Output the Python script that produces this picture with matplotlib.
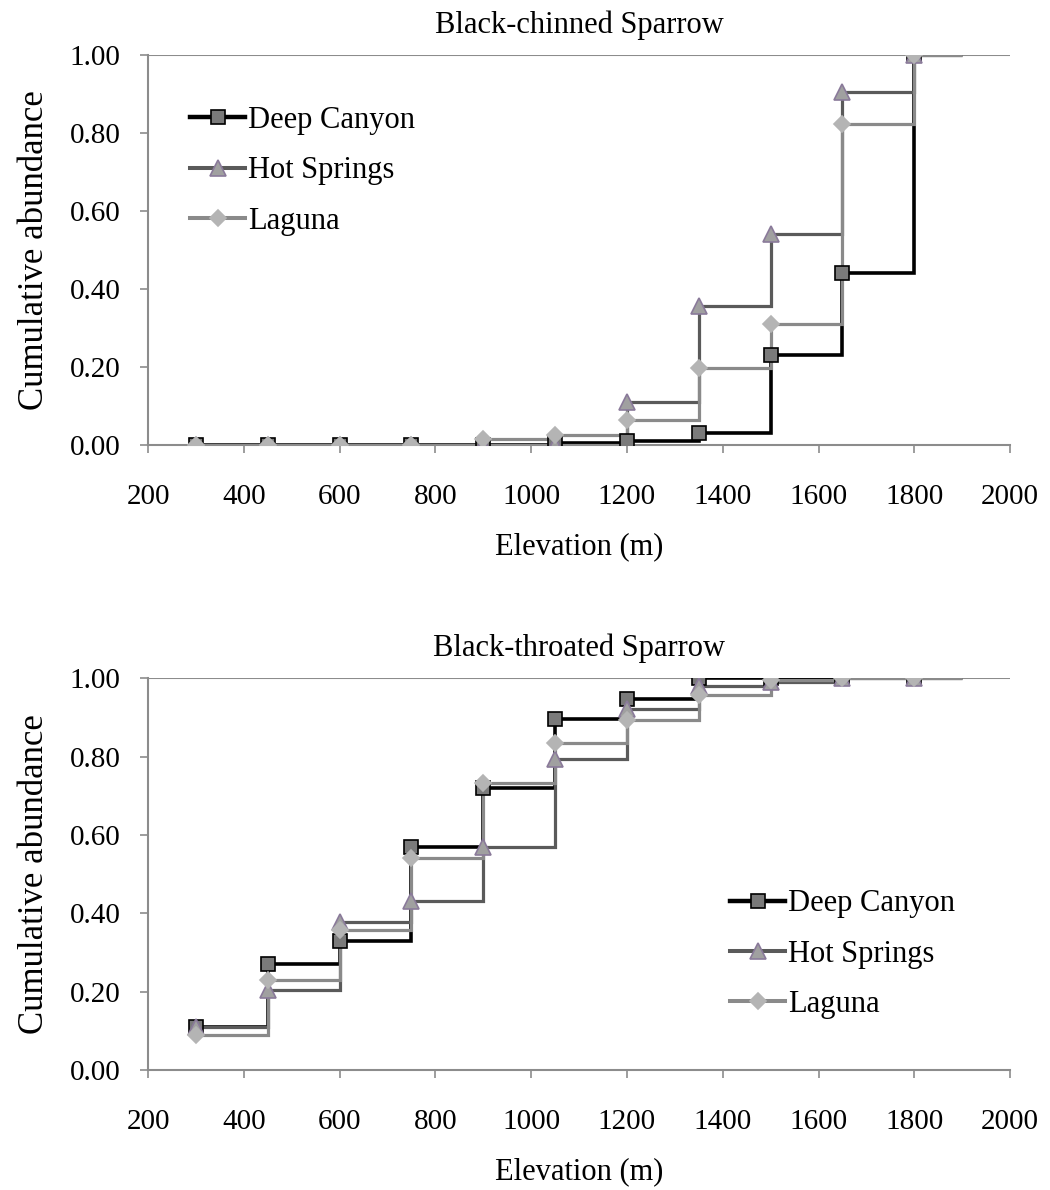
import numpy as np
import matplotlib.pyplot as plt
from matplotlib.ticker import FormatStrFormatter

plt.rcParams['font.family'] = ['Liberation Serif', 'DejaVu Serif']

elev = [300, 450, 600, 750, 900, 1050, 1200, 1350, 1500, 1650, 1800]
edges = elev + [1900]

# Black-chinned Sparrow
bc_deep = [0, 0, 0, 0, 0, 0.005, 0.01, 0.03, 0.23, 0.44, 1.00]
bc_hot = [0, 0, 0, 0, 0, 0, 0.11, 0.355, 0.54, 0.905, 1.00]
bc_lag = [0, 0, 0, 0, 0.015, 0.025, 0.064, 0.197, 0.31, 0.823, 1.00]

# Black-throated Sparrow
bt_deep = [0.11, 0.27, 0.33, 0.57, 0.72, 0.895, 0.948, 1.00, 1.00, 1.00, 1.00]
bt_hot = [0.11, 0.203, 0.378, 0.43, 0.569, 0.793, 0.922, 0.98, 0.99, 1.00, 1.00]
bt_lag = [0.09, 0.229, 0.357, 0.54, 0.733, 0.835, 0.894, 0.958, 0.995, 1.00, 1.00]

styles = [
    ("Deep Canyon", "black", 2.6, "s", "#7a7a7a", "black", 10),
    ("Hot Springs", "#5a5a5a", 2.3, "^", "#a0a0a0", "#8a7a9a", 11),
    ("Laguna", "#8a8a8a", 2.3, "D", "#b4b4b4", "#b4b4b4", 8),
]

fig = plt.figure(figsize=(10.5, 11.9), dpi=100)
ax1 = fig.add_axes([0.141, 0.626, 0.821, 0.328])
ax2 = fig.add_axes([0.141, 0.101, 0.821, 0.329])


def draw(ax, series, title, legend_anchor):
    for vals, (name, lc, lw, mk, mfc, mec, ms) in zip(series, styles):
        ax.stairs(vals, edges, baseline=None, color=lc, lw=lw, zorder=2)
        ax.plot(elev, vals, ls="none", marker=mk, mfc=mfc, mec=mec, ms=ms, mew=1.2, zorder=3)
        ax.plot([], [], color=lc, lw=lw + 0.6, marker=mk, mfc=mfc, mec=mec, ms=ms, mew=1.2, label=name)
    ax.set_xlim(200, 2000)
    ax.set_ylim(0, 1.0)
    ax.set_xticks(np.arange(200, 2001, 200))
    ax.set_yticks(np.arange(0, 1.01, 0.2))
    ax.yaxis.set_major_formatter(FormatStrFormatter('%.2f'))
    ax.axhline(1.0, color="#8c8c8c", lw=1.5, zorder=1)
    for s in ("top", "right"):
        ax.spines[s].set_visible(False)
    for s in ("left", "bottom"):
        ax.spines[s].set_color("#8c8c8c")
        ax.spines[s].set_linewidth(1.5)
    ax.tick_params(colors="#8c8c8c", labelcolor="black", labelsize=21, length=6, width=1.2, direction="out")
    ax.tick_params(axis="x", pad=22)
    ax.tick_params(axis="y", pad=14)
    ax.set_title(title, fontsize=22, pad=16)
    ax.set_xlabel("Elevation (m)", fontsize=22, labelpad=16)
    ax.set_ylabel("Cumulative abundance", fontsize=25, labelpad=13)
    ax.legend(loc="upper left", bbox_to_anchor=legend_anchor, frameon=False, fontsize=22,
              handlelength=1.8, handletextpad=0.1, labelspacing=0.7, borderaxespad=0,
              borderpad=0.4)


draw(ax1, [bc_deep, bc_hot, bc_lag], "Black-chinned Sparrow", (0.035, 0.90))
draw(ax2, [bt_deep, bt_hot, bt_lag], "Black-throated Sparrow", (0.661, 0.492))

fig.savefig("out.png", dpi=100)
